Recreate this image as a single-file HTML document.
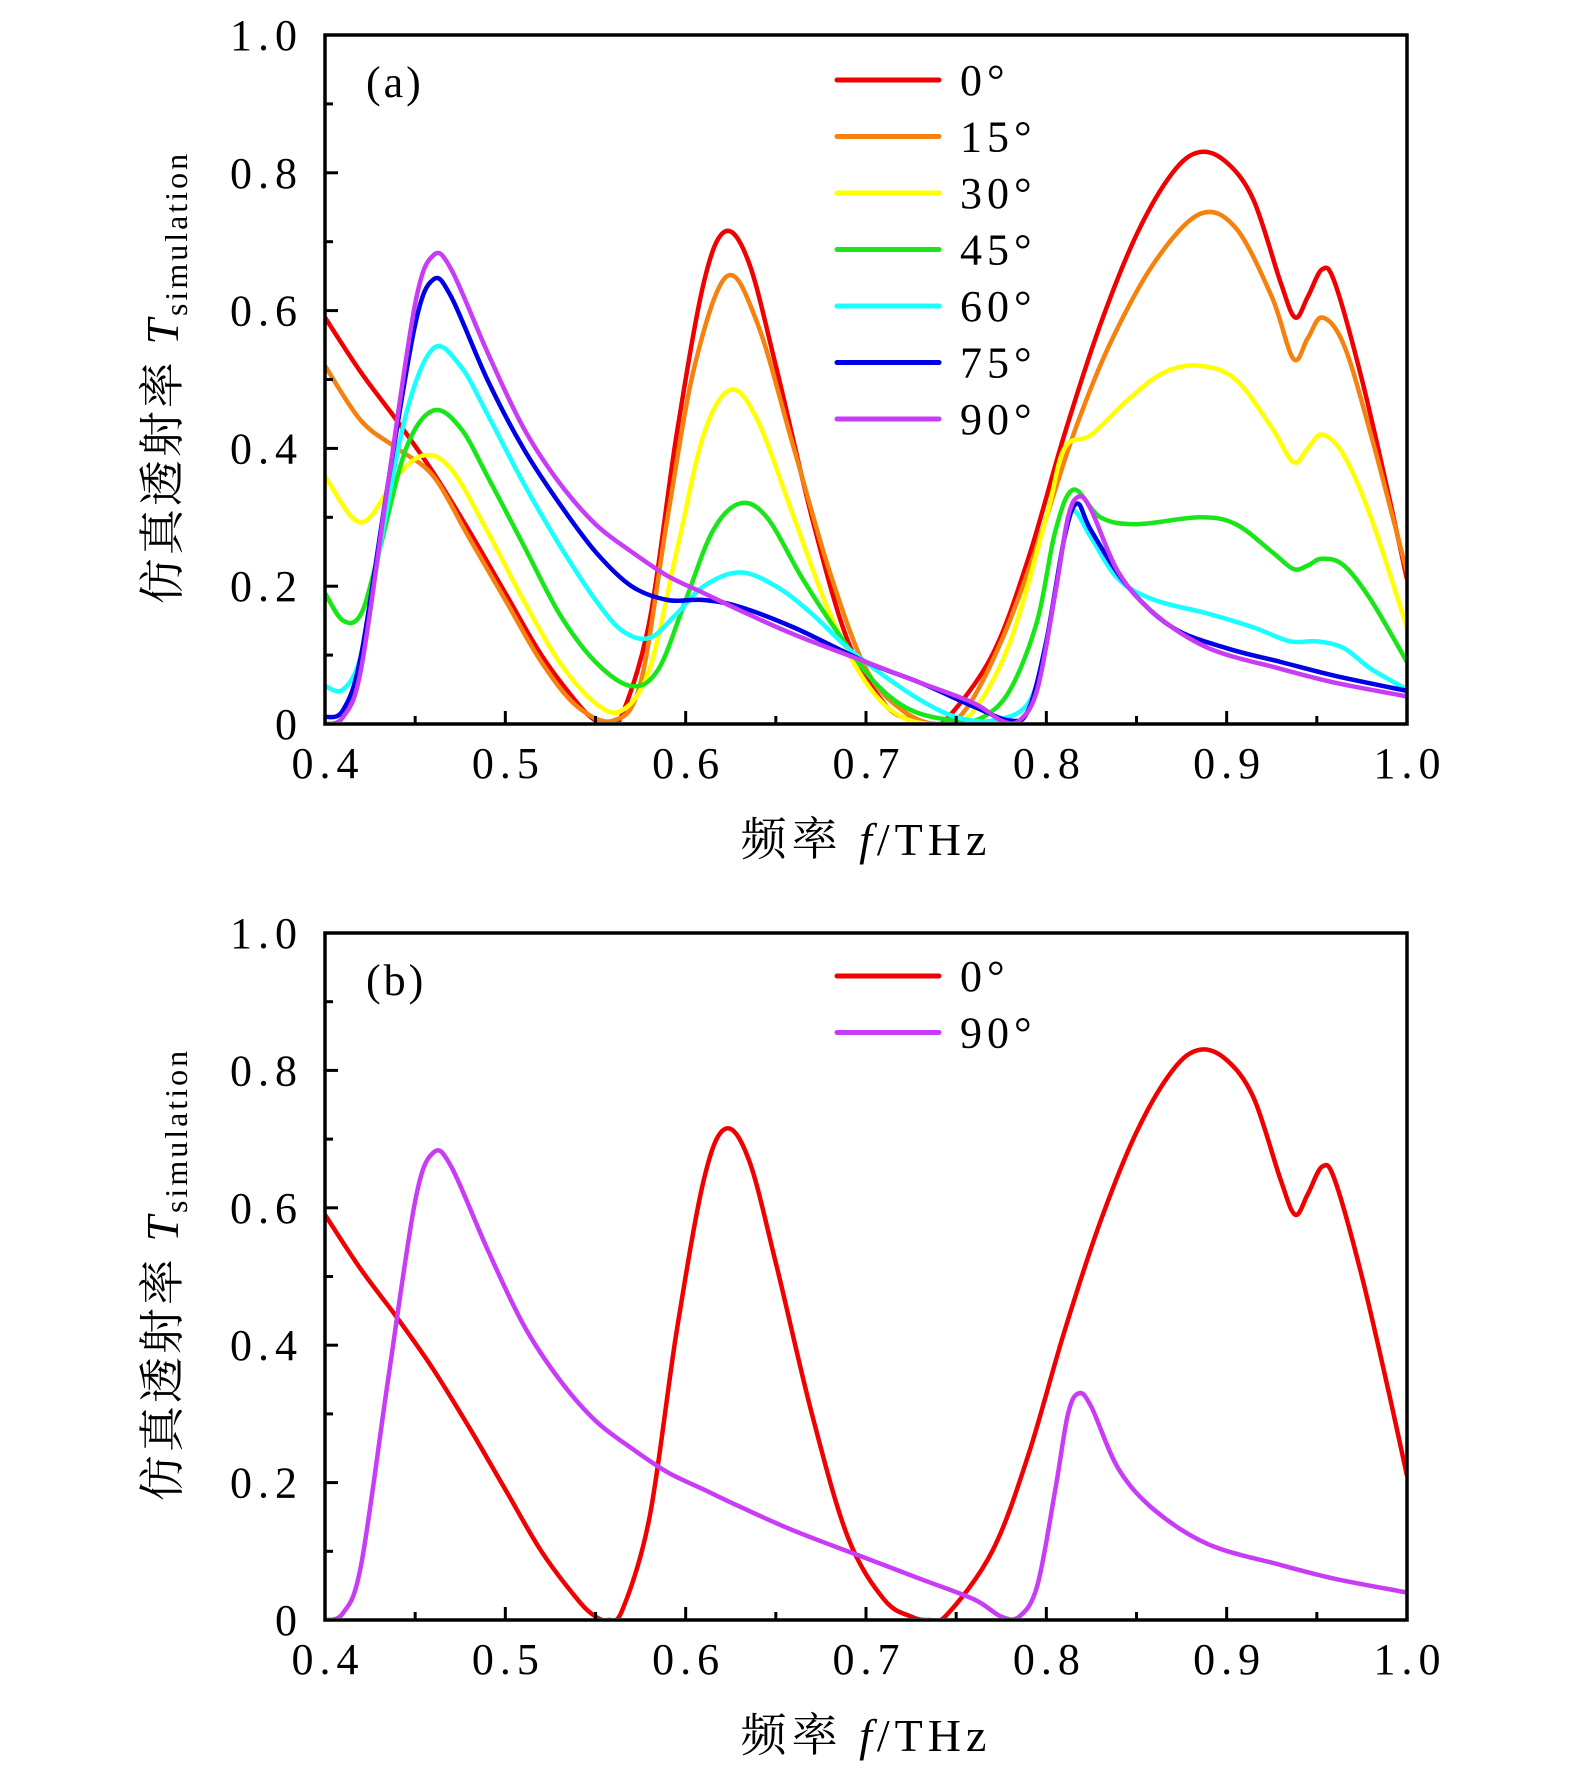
<!DOCTYPE html>
<html><head><meta charset="utf-8">
<style>
html,body{margin:0;padding:0;background:#fff;}
svg{display:block;}
text{font-family:"Liberation Serif","Noto Serif CJK SC",serif;fill:#000;}
</style></head>
<body>
<svg id="chart" width="1575" height="1772" viewBox="0 0 1575 1772" xmlns="http://www.w3.org/2000/svg"></svg>
<script>
const xTicks=[0.4,0.5,0.6,0.7,0.8,0.9,1.0];
const xTickLabels=["0.4","0.5","0.6","0.7","0.8","0.9","1.0"];
const yTicks=[0,0.2,0.4,0.6,0.8,1.0];
const yTickLabels=["0","0.2","0.4","0.6","0.8","1.0"];
const seriesNames=["0°","15°","30°","45°","60°","75°","90°"];
const seriesColors=["#f00000","#f5820f","#ffff00","#19e619","#19ffff","#0000e6","#c83cf5"];
const s0=[[.4,.59],[.42,.51],[.44,.44],[.46,.365],[.48,.28],[.50,.19],[.52,.10],[.54,.03],[.55,.005],[.557,0.0],[.565,.015],[.58,.15],[.595,.42],[.61,.64],[.622,.715],[.635,.67],[.65,.52],[.67,.30],[.69,.12],[.71,.03],[.725,.005],[.735,0.0],[.745,.008],[.77,.10],[.79,.24],[.81,.42],[.83,.58],[.85,.71],[.87,.80],[.885,.83],[.90,.815],[.915,.76],[.93,.64],[.938,.59],[.945,.62],[.953,.66],[.96,.64],[.975,.50],[.99,.33],[1.0,.21]];
const s15=[[.4,.52],[.42,.44],[.44,.40],[.46,.36],[.48,.27],[.50,.18],[.52,.09],[.54,.025],[.56,.005],[.575,.06],[.59,.30],[.605,.52],[.623,.65],[.64,.58],[.66,.40],[.68,.22],[.70,.08],[.72,.02],[.74,.0],[.755,.02],[.775,.12],[.795,.26],[.815,.42],[.835,.55],[.86,.67],[.885,.74],[.905,.72],[.925,.62],[.937,.53],[.945,.56],[.953,.59],[.965,.55],[.98,.42],[1.0,.22]];
const s30=[[.4,.36],[.415,.30],[.425,.30],[.44,.36],[.455,.39],[.47,.37],[.49,.28],[.51,.18],[.53,.09],[.55,.03],[.565,.02],[.58,.08],[.595,.25],[.61,.42],[.625,.485],[.64,.44],[.66,.30],[.68,.16],[.70,.06],[.72,.01],[.745,.0],[.76,.02],[.78,.12],[.80,.30],[.81,.40],[.825,.42],[.845,.47],[.865,.51],[.885,.52],[.905,.50],[.925,.43],[.937,.38],[.945,.40],[.953,.42],[.965,.39],[.98,.30],[1.0,.14]];
const s45=[[.4,.19],[.41,.15],[.42,.16],[.43,.25],[.445,.40],[.46,.455],[.475,.43],[.49,.36],[.51,.26],[.53,.16],[.55,.09],[.57,.055],[.585,.08],[.60,.18],[.615,.28],[.63,.32],[.645,.30],[.665,.21],[.685,.13],[.705,.06],[.725,.02],[.75,.005],[.765,.01],[.78,.05],[.795,.15],[.805,.28],[.815,.34],[.83,.30],[.85,.29],[.885,.30],[.905,.29],[.925,.25],[.937,.225],[.945,.23],[.953,.24],[.965,.23],[.98,.18],[1.0,.09]];
const s60=[[.4,.055],[.41,.05],[.42,.10],[.43,.25],[.445,.45],[.46,.545],[.475,.52],[.49,.45],[.51,.35],[.53,.26],[.55,.18],[.565,.135],[.58,.125],[.595,.16],[.61,.20],[.63,.22],[.65,.20],[.67,.16],[.69,.11],[.71,.07],[.73,.035],[.75,.01],[.77,.005],[.79,.03],[.80,.12],[.81,.27],[.815,.31],[.825,.27],[.84,.21],[.86,.18],[.89,.16],[.915,.14],[.935,.12],[.95,.12],[.965,.11],[.98,.08],[1.0,.05]];
const s75=[[.4,.01],[.41,.02],[.42,.10],[.435,.35],[.45,.58],[.46,.645],[.47,.62],[.49,.50],[.51,.40],[.53,.32],[.55,.25],[.57,.20],[.59,.18],[.61,.18],[.63,.17],[.66,.14],[.70,.09],[.73,.06],[.76,.025],[.78,.005],[.79,.02],[.80,.12],[.81,.27],[.817,.32],[.825,.28],[.845,.20],[.87,.14],[.90,.11],[.93,.09],[.96,.07],[1.0,.048]];
const s90=[[.4,.0],[.41,.01],[.42,.08],[.435,.35],[.45,.61],[.46,.68],[.47,.66],[.49,.54],[.51,.43],[.53,.35],[.55,.29],[.57,.25],[.59,.215],[.61,.19],[.63,.165],[.66,.13],[.70,.09],[.73,.06],[.76,.03],[.775,.005],[.785,.005],[.795,.05],[.805,.19],[.812,.30],[.818,.33],[.825,.31],[.84,.22],[.86,.16],[.89,.11],[.93,.08],[.96,.06],[1.0,.04]];
const allSeries=[s0,s15,s30,s45,s60,s75,s90];

const NS="http://www.w3.org/2000/svg";
const svg=document.getElementById('chart');
const L=325,R=1407;
function mk(tag,attrs,parent){const e=document.createElementNS(NS,tag);for(const k in attrs)e.setAttribute(k,attrs[k]);(parent||svg).appendChild(e);return e;}
function pathFrom(pts,xs,ys){
  const p=pts.map(d=>[xs(d[0]),ys(d[1])]);
  let s="M"+p[0][0].toFixed(1)+","+p[0][1].toFixed(1);
  for(let i=0;i<p.length-1;i++){
    const p0=p[i-1]||p[i],p1=p[i],p2=p[i+1],p3=p[i+2]||p2;
    const c1x=p1[0]+(p2[0]-p0[0])/6,c1y=p1[1]+(p2[1]-p0[1])/6;
    const c2x=p2[0]-(p3[0]-p1[0])/6,c2y=p2[1]-(p3[1]-p1[1])/6;
    s+=" C"+c1x.toFixed(1)+","+c1y.toFixed(1)+" "+c2x.toFixed(1)+","+c2y.toFixed(1)+" "+p2[0].toFixed(1)+","+p2[1].toFixed(1);
  }
  return s;
}
function panel(id,T,B,idxs,label,legY){
  const g=mk('g',{});
  
  
  const xs=f=>L+(f-0.4)/0.6*(R-L);
  const ys=v=>B-v*(B-T);
  const cp=mk('clipPath',{id:'clip'+id},g);
  mk('rect',{x:L,y:T-3,width:R-L,height:B-T+1},cp);
  const cg=mk('g',{'clip-path':'url(#clip'+id+')'},g);
  idxs.forEach(i=>{
    const p=mk('path',{d:pathFrom(allSeries[i],xs,ys),fill:'none',stroke:seriesColors[i],'stroke-width':4.5,'stroke-linejoin':'round'},cg);
    
    
  });
  for(let k=0;k<=12;k++){const f=0.4+k*0.05;const x=xs(f);const len=(k%2==0)?13:8;
    mk('line',{x1:x,y1:B,x2:x,y2:B-len,stroke:'#000','stroke-width':3},g);}
  for(let k=0;k<=10;k++){const v=k*0.1;const y=ys(v);const len=(k%2==0)?13:8;
    mk('line',{x1:L,y1:y,x2:L+len,y2:y,stroke:'#000','stroke-width':3},g);}
  const frame=mk('rect',{x:L,y:T,width:R-L,height:B-T,fill:'none',stroke:'#000','stroke-width':3.5},g);
  
  
  xTicks.forEach((f,i)=>{const t=mk('text',{x:xs(f)+3,y:B+54,'font-size':44,'letter-spacing':6,'text-anchor':'middle'},g);t.textContent=xTickLabels[i];
    
    });
  yTicks.forEach((v,i)=>{const t=mk('text',{x:L-22,y:ys(v)+15,'font-size':44,'letter-spacing':6,'text-anchor':'end'},g);t.textContent=yTickLabels[i];
    
    });
  const pl=mk('text',{x:366,y:T+62,'font-size':44,'letter-spacing':3},g);pl.textContent=label;
  
  
  idxs.forEach((i,j)=>{const y=legY+j*56.5;
    const ln=mk('line',{x1:837,y1:y,x2:939,y2:y,stroke:seriesColors[i],'stroke-width':5,'stroke-linecap':'round'},g);
    
    
    const t=mk('text',{x:960,y:y+15,'font-size':44,'letter-spacing':5},g);t.textContent=seriesNames[i];
    
    });
  const xt=mk('text',{x:866,y:B+131,'font-size':46,'letter-spacing':5,'text-anchor':'middle'},g);
  xt.innerHTML='频率 <tspan font-style="italic">f</tspan>/THz';
  
  
  const cy=(T+B)/2-2;
  const yt=mk('text',{x:0,y:0,'font-size':46,'letter-spacing':3,'text-anchor':'middle',transform:'translate(178,'+cy+') rotate(-90)'},g);
  yt.innerHTML='仿真透射率 <tspan font-style="italic">T</tspan><tspan font-size="32" dy="9">simulation</tspan>';
  
  
}
panel('a',35,724,[0,1,2,3,4,5,6],'(a)',80);
panel('b',933,1620,[0,6],'(b)',976);
</script>
</body></html>
